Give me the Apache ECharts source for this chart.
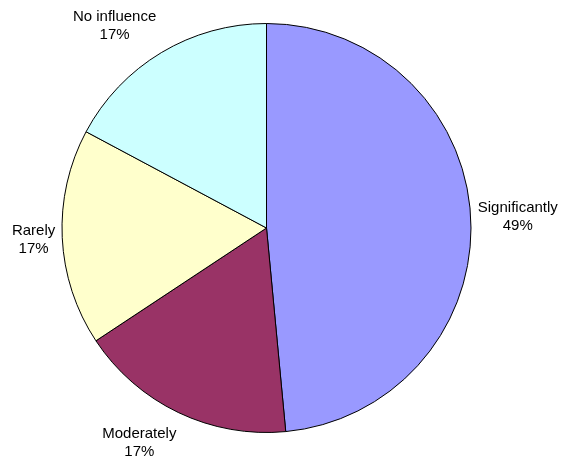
<!DOCTYPE html>
<html lang="en">

<head>
    <meta charset="UTF-8">
    <title>Pie</title>
    <script src="https://cdn.jsdelivr.net/npm/echarts@6/dist/echarts.min.js"></script>
    <style>
        body {
            overflow: hidden;
            padding: 0;
            margin: 0;
            background: #fff;
        }
    </style>
</head>

<body>
    <div id="main" style="width: 561px;height:464px;"></div>
</body>
<script>
    // data
    var categories = ['Significantly', 'Moderately', 'Rarely', 'No influence'];
    var values = [48.5, 17.2, 17.1, 17.2];
    var colors = ['#9999ff', '#993366', '#ffffcc', '#ccffff'];

    // small nudges so labels sit like the original
    var nudgeX = [0, 4, 0, 1];
    var nudgeY = [-1, 29, 2, -25];

    var app = echarts.init(document.getElementById('main'));

    var pieData = [];
    for (var i = 0; i < categories.length; i++) {
        pieData.push({ name: categories[i], value: values[i] });
    }

    var option = {
        animation: false,
        color: colors,
        series: [{
            type: 'pie',
            center: [266.5, 228],
            radius: 204.5,
            startAngle: 90,
            clockwise: true,
            percentPrecision: 0,
            avoidLabelOverlap: false,
            itemStyle: {
                borderColor: '#000',
                borderWidth: 1
            },
            label: {
                show: true,
                position: 'outside',
                formatter: '{b}\n{d}%',
                fontFamily: 'Liberation Sans, Arial, sans-serif',
                fontSize: 15,
                lineHeight: 18,
                color: '#000'
            },
            labelLine: {
                show: false,
                length: 2,
                length2: 0
            },
            emphasis: { disabled: true },
            labelLayout: function (p) {
                var w = p.labelRect.width;
                var sign = p.align === 'left' ? 1 : -1;
                return {
                    align: 'center',
                    dx: sign * w / 2 + nudgeX[p.dataIndex],
                    dy: nudgeY[p.dataIndex]
                };
            },
            data: pieData
        }]
    };
    app.setOption(option);
</script>

</html>
